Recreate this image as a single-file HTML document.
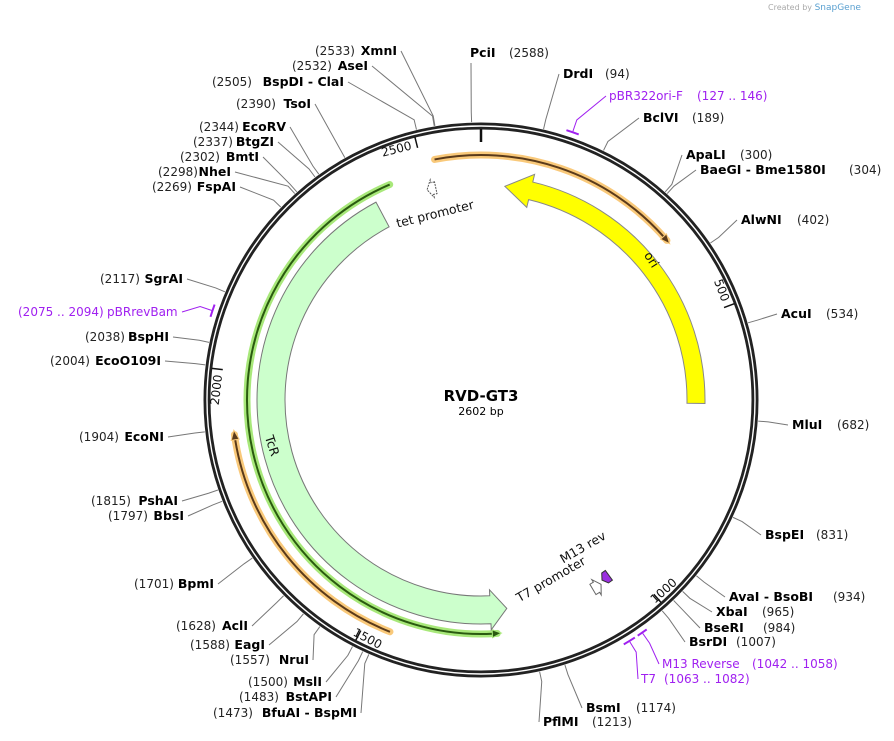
<!DOCTYPE html>
<html><head><meta charset="utf-8">
<style>
body{margin:0;background:#fff;}
svg{display:block;font-family:"DejaVu Sans","Liberation Sans",sans-serif;}
.n{font-size:12px;fill:#222;}
.b{font-size:12.5px;font-weight:bold;fill:#000;}
.p{font-size:12px;fill:#a020f0;}
</style></head>
<body>
<svg id="map" width="894" height="741" viewBox="0 0 894 741">
<text x="768" y="10" font-size="8" fill="#aaa">Created by <tspan fill="#5aa0d0" font-size="9">SnapGene</tspan></text>
</svg>
<script>
const TOTAL = 2602;
const enzNames = ["PciI","DrdI","BclVI","ApaLI","BaeGI  - Bme1580I","AlwNI","AcuI","MluI","BspEI","AvaI  - BsoBI","XbaI","BseRI","BsrDI","BsmI","PflMI","BfuAI  - BspMI","BstAPI","MslI","NruI","EagI","AclI","BpmI","BbsI","PshAI","EcoNI","EcoO109I","BspHI","SgrAI","FspAI","NheI","BmtI","BtgZI","EcoRV","TsoI","BspDI  - ClaI","AseI","XmnI"];
const enzPos = [2588,94,189,300,304,402,534,682,831,934,965,984,1007,1174,1213,1473,1483,1500,1557,1588,1628,1701,1797,1815,1904,2004,2038,2117,2269,2298,2302,2337,2344,2390,2505,2532,2533];
const labX = [470,563,643,686,700,741,781,792,765,729,716,704,689,586,543,213,239,248,230,190,176,134,108,91,79,50,85,100,152,158,180,193,199,236,212,292,315];
const labY = [57,78,122,159,174,224,318,429,539,601,616,632,646,712,726,717,701,686,664,649,630,588,520,505,441,365,341,283,191,176,161,146,131,108,86,70,55];
const labEnd = [0,0,0,0,0,0,0,0,0,0,0,0,0,0,0,357,332,322,309,265,248,214,184,178,164,161,169,183,236,231,259,274,286,311,344,368,397];
const labNumX = [509,605,692,740,849,797,826,837,816,833,762,763,736,636,592];

const primerNames = ["pBR322ori-F","M13 Reverse","T7","pBRrevBam"];
const primerStart = [127,1042,1063,2075];
const primerEnd = [146,1058,1082,2094];
const primerLabX = [609,662,641,107];
const primerLabY = [100,668,683,316];

const tickVals = [500,1000,1500,2000,2500];

const featNames = ["ori","TcR","tet promoter","M13 rev","T7 promoter"];
const featStart = [46,1250,2498,1040,1062];
const featEnd = [657,2400,2515,1056,1080];

const cx=481, cy=400, R=274;
const NS="http://www.w3.org/2000/svg";
const svg=document.getElementById('map');
function ang(p){return p/TOTAL*360;}
function pt(a,r){const t=a*Math.PI/180;return [cx+r*Math.sin(t),cy-r*Math.cos(t)];}
function mk(tag,attrs,parent){const e=document.createElementNS(NS,tag);for(const k in attrs)e.setAttribute(k,attrs[k]);(parent||svg).appendChild(e);return e;}
function arcD(a1,a2,r){const s=pt(a1,r),e=pt(a2,r);let d=a2-a1;return `M${s[0]},${s[1]} A${r},${r} 0 ${Math.abs(d)>180?1:0} ${d>0?1:0} ${e[0]},${e[1]}`;}
function bandArrow(aTail,aHead,rin,rout,headDeg,extra){
  const dir=aHead>aTail?1:-1; const hb=aHead-dir*headDeg; const rm=(rin+rout)/2;
  const A=pt(aTail,rout),B=pt(hb,rout),C=pt(hb,rout+extra),D=pt(aHead,rm),E=pt(hb,rin-extra),F=pt(hb,rin),G=pt(aTail,rin);
  return `M${A} A${rout},${rout} 0 ${Math.abs(hb-aTail)>180?1:0} ${dir>0?1:0} ${B} L${C} L${D} L${E} L${F} A${rin},${rin} 0 ${Math.abs(hb-aTail)>180?1:0} ${dir>0?0:1} ${G} Z`;
}
function lineArrow(a1,a2,r,col,halo,name){
  const g=mk('g',{});
  
  
  const dir=a2>a1?1:-1;const hb=a2-dir*2.2;
  mk('path',{d:arcD(a1,a2-dir*1,r),fill:'none',stroke:halo,'stroke-width':7,'stroke-linecap':'round'},g);
  mk('path',{d:arcD(a1,hb,r),fill:'none',stroke:col,'stroke-width':2},g);
  const h1=pt(hb,r+4),h2=pt(a2,r),h3=pt(hb,r-4);
  mk('path',{d:`M${h1} L${h2} L${h3} Z`,fill:col,stroke:halo,'stroke-width':1},g);
}

const ring=mk('circle',{cx,cy,r:R,fill:'none',stroke:'#222','stroke-width':7});


mk('circle',{cx,cy,r:R,fill:'none',stroke:'#fff','stroke-width':1.4});
mk('line',{x1:cx,y1:cy-R+3,x2:cx,y2:cy-R+16,stroke:'#111','stroke-width':2.5});

tickVals.forEach(v=>{
  const a=ang(v);const s=pt(a,R-3),e=pt(a,R-14);
  const t=mk('line',{x1:s[0],y1:s[1],x2:e[0],y2:e[1],stroke:'#111','stroke-width':1.5});
  
  
  const flip=a>90&&a<270; const rot=flip?a-180:a;
  const off=flip?1.2:-1.2; const q=pt(a+off,R-10);
  const tx=mk('text',{x:q[0],y:q[1],'font-size':12,fill:'#111','text-anchor':flip?'start':'end','dominant-baseline':'central',transform:`rotate(${rot} ${q[0]} ${q[1]})`});
  tx.textContent=v;
  
  
});

lineArrow(ang(2523)-360,ang(364),245,'#5a3a1a','#f9c97a','ori-feature-arc');
lineArrow(ang(1456),ang(1901),249,'#5a3a1a','#f9c97a','tcr-orange-arc');
lineArrow(ang(2436),ang(1265),234,'#2a5a10','#a8e87a','tcr-green-arc');
let f=mk('path',{d:bandArrow(ang(featEnd[0]),ang(featStart[0]),206,224,7,8),fill:'#ffff00',stroke:'#888','stroke-width':1});


f=mk('path',{d:bandArrow(ang(featEnd[1]),ang(featStart[1]),196,224,4.5,6),fill:'#ccffcc',stroke:'#777','stroke-width':1});


f=mk('path',{d:bandArrow(ang(featEnd[2]),ang(featStart[2]),211,223,1.4,3),fill:'#fff',stroke:'#555','stroke-width':1,'stroke-dasharray':'2 1'});


f=mk('path',{d:bandArrow(ang(featStart[3]),ang(featEnd[3]),211,223,1.0,0),fill:'#9b30e0',stroke:'#333','stroke-width':1});


f=mk('path',{d:bandArrow(ang(featEnd[4]),ang(featStart[4]),214,226,1.4,3),fill:'#fff',stroke:'#666','stroke-width':1});



function flab(txt,x,y,rot,name){const t=mk('text',{x,y,'font-size':12.5,fill:'#111','text-anchor':'middle',transform:`rotate(${rot} ${x} ${y})`});t.textContent=txt;}
flab(featNames[0],648,262,57,'ori-label');
flab(featNames[1],268,447,72,'tcr-label');
flab(featNames[2],436,218,-14,'tet-promoter-label');
flab(featNames[3],585,551,-30,'m13-rev-label');
flab(featNames[4],553,583,-30,'t7-promoter-label');

enzNames.forEach((nm,i)=>{
  const a=ang(enzPos[i]); const right=i<15;
  const s=pt(a,R+4),m=pt(a,R+14);
  let ax,ay;
  if(i===0){ax=471;ay=63;} else if(right){ax=labX[i]-4;ay=labY[i]-4;} else {ax=labEnd[i]+4;ay=labY[i]-4;}
  const l=mk('polyline',{points:`${s} ${m} ${ax},${ay}`,fill:'none',stroke:'#777','stroke-width':1});
  
  
  const g=mk('g',{});
  
  
  if(right){
    const t=mk('text',{x:labX[i],y:labY[i],class:'b'},g);t.textContent=nm;
    const n=mk('text',{x:labNumX[i],y:labY[i],class:'n'},g);n.textContent='('+enzPos[i]+')';
  } else {
    const n=mk('text',{x:labX[i],y:labY[i],class:'n'},g);n.textContent='('+enzPos[i]+')';
    const t=mk('text',{x:labEnd[i],y:labY[i],class:'b','text-anchor':'end'},g);t.textContent=nm;
  }
});

primerNames.forEach((nm,i)=>{
  const a1=ang(primerStart[i]),a2=ang(primerEnd[i]);
  const seg=mk('path',{d:arcD(a1,a2,R+9),fill:'none',stroke:'#a020f0','stroke-width':2});
  
  
  const am=(a1+a2)/2, s=pt(am,R+10), m=pt(am,R+22);
  const left=i===3;
  const ax=left?primerLabX[i]+75:primerLabX[i]-3, ay=primerLabY[i]-4;
  const l=mk('polyline',{points:`${s} ${m} ${ax},${ay}`,fill:'none',stroke:'#a020f0','stroke-width':1});
  
  
  const rng='('+primerStart[i]+' .. '+primerEnd[i]+')';
  if(left){
    const n=mk('text',{x:18,y:primerLabY[i],class:'p'});n.textContent=rng;
    
    
    const t=mk('text',{x:primerLabX[i],y:primerLabY[i],class:'p','font-size':12.5});t.textContent=nm;
    
    
  } else {
    const t=mk('text',{x:primerLabX[i],y:primerLabY[i],class:'p','font-size':12.5});t.textContent=nm;
    
    
    const nx=[697,752,664][i]; const n=mk('text',{x:nx,y:primerLabY[i],class:'p'});n.textContent=rng;
    
    
  }
});

const tt=mk('text',{x:cx,y:401,'text-anchor':'middle','font-size':15,'font-weight':'bold',fill:'#000'});tt.textContent='RVD-GT3';


const tb=mk('text',{x:cx,y:415,'text-anchor':'middle','font-size':11,fill:'#000'});tb.textContent=TOTAL+' bp';


</script>
</body></html>
